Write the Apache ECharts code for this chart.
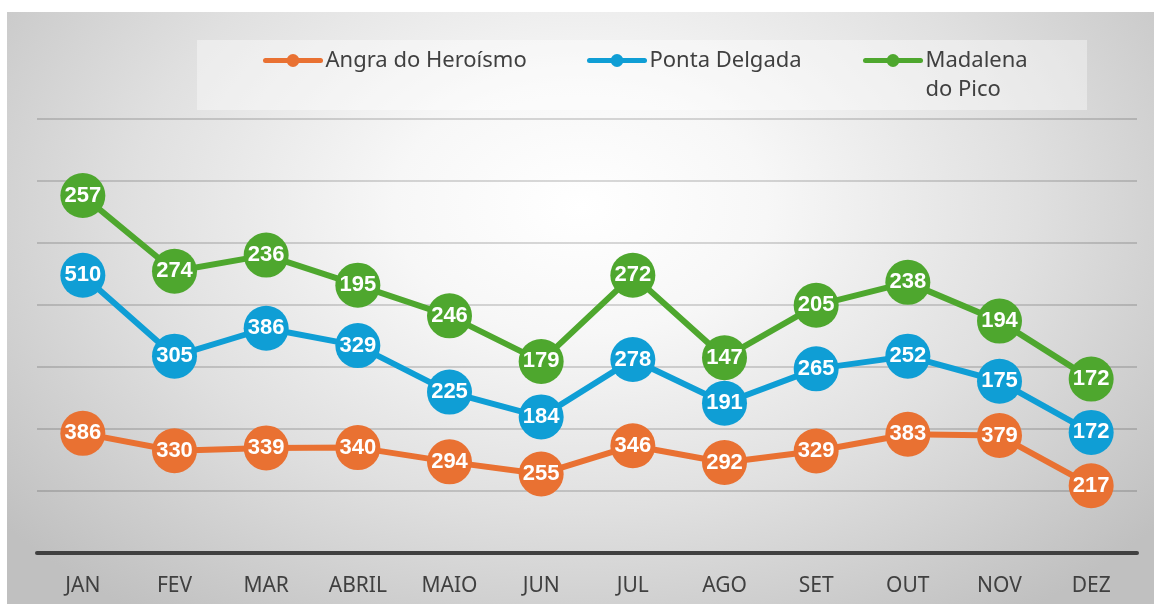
<!DOCTYPE html>
<html>
<head>
<meta charset="utf-8">
<script src="https://cdn.jsdelivr.net/npm/echarts@6/dist/echarts.min.js"></script>
<style>
  html, body { margin: 0; padding: 0; background: #fff; }
  #chart {
    position: absolute; left: 7px; top: 12px; width: 1147px; height: 592px;
    background: radial-gradient(ellipse 65% 85% at 50% 33%, #ffffff 0%, #f7f7f7 25%, #e0e0e0 60%, #c0c0c0 100%);
  }
</style>
</head>
<body>
<div id="chart"></div>
<script>
  // dados
  var meses = ['JAN', 'FEV', 'MAR', 'ABRIL', 'MAIO', 'JUN', 'JUL', 'AGO', 'SET', 'OUT', 'NOV', 'DEZ'];
  var angra = [386, 330, 339, 340, 294, 255, 346, 292, 329, 383, 379, 217];
  var ponta = [510, 305, 386, 329, 225, 184, 278, 191, 265, 252, 175, 172];
  var madalena = [257, 274, 236, 195, 246, 179, 272, 147, 205, 238, 194, 172];
  var nomes = ['Angra do Heroísmo', 'Ponta Delgada', 'Madalena do Pico'];

  var cores = ['#E97132', '#0F9ED5', '#4EA72E'];
  var fonteTexto = '"Noto Sans", sans-serif';

  function serie(nome, dados, cor) {
    return {
      name: nome,
      type: 'line',
      stack: 'total',
      data: dados,
      symbol: 'circle',
      symbolSize: 45,
      lineStyle: { width: 6, color: cor, cap: 'round' },
      itemStyle: { color: cor, borderWidth: 0 },
      label: {
        show: true,
        position: 'inside',
        color: '#fff',
        fontSize: 22,
        fontWeight: 'bold',
        fontFamily: '"Liberation Sans", Arial, sans-serif'
      }
    };
  }

  function legenda(nome, left, top) {
    return {
      data: [nome],
      left: left,
      top: top,
      padding: 0,
      itemWidth: 55,
      itemHeight: 16,
      lineStyle: { width: 5, cap: 'round' },
      formatter: function (n) {
        // linha vazia em cima para o ícone ficar alinhado com "Madalena"
        return n === 'Madalena do Pico' ? '\nMadalena\ndo Pico' : n;
      },
      textStyle: {
        fontSize: 22,
        color: '#404040',
        fontFamily: fonteTexto,
        lineHeight: 29
      }
    };
  }

  var chart = echarts.init(document.getElementById('chart'));
  var option = {
    backgroundColor: 'transparent',
    animation: false,
    color: cores,
    graphic: [{
      type: 'rect',
      left: 190,
      top: 28,
      shape: { width: 890, height: 70 },
      style: { fill: 'rgba(255,255,255,0.38)' },
      z: -1
    }],
    legend: [
      legenda(nomes[0], 256, 34),
      legenda(nomes[1], 580, 34),
      legenda(nomes[2], 856, 5)
    ],
    grid: { left: 30, right: 17, top: 107, bottom: 51 },
    xAxis: {
      type: 'category',
      data: meses,
      boundaryGap: true,
      axisTick: { show: false },
      axisLine: { lineStyle: { color: '#404040', width: 4 } },
      axisLabel: { fontSize: 21, color: '#404040', margin: 23, fontFamily: fonteTexto }
    },
    yAxis: {
      type: 'value',
      min: 0,
      max: 1400,
      interval: 200,
      axisLabel: { show: false },
      axisLine: { show: false },
      axisTick: { show: false },
      splitLine: { lineStyle: { color: 'rgba(0,0,0,0.2)', width: 1.5 } }
    },
    series: [
      serie(nomes[0], angra, cores[0]),
      serie(nomes[1], ponta, cores[1]),
      serie(nomes[2], madalena, cores[2])
    ]
  };
  chart.setOption(option);
</script>
</body>
</html>
